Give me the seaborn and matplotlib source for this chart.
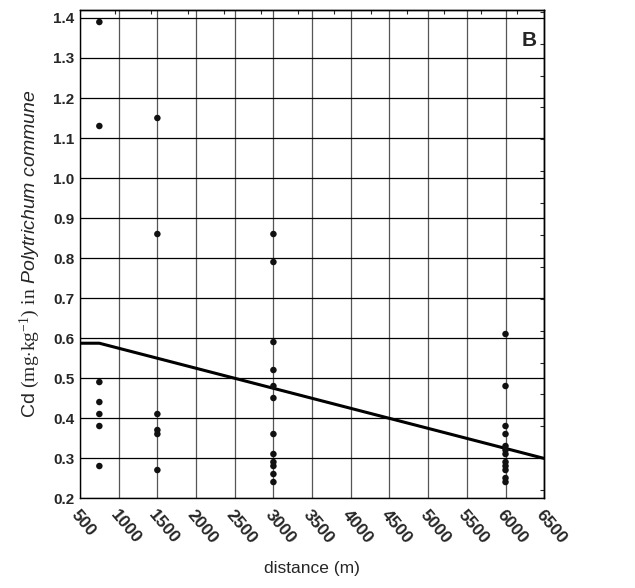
import numpy as np
import pandas as pd
import seaborn as sns
import matplotlib
matplotlib.use("Agg")
import matplotlib.pyplot as plt

# measured Cd values per sampling distance
dist_750 = [1.39, 1.13, 0.49, 0.44, 0.41, 0.38, 0.28]
dist_1500 = [1.15, 0.86, 0.41, 0.37, 0.36, 0.27]
dist_3000 = [0.86, 0.79, 0.59, 0.52, 0.48, 0.45, 0.36, 0.31, 0.29, 0.28, 0.26, 0.24]
dist_6000 = [0.61, 0.48, 0.38, 0.36, 0.33, 0.32, 0.31, 0.29, 0.28, 0.27, 0.25, 0.24]

# fitted trend line
trend_x = [500, 750, 6500]
trend_y = [0.587, 0.587, 0.299]

x_ticks = list(range(500, 7000, 500))
y_ticks = [0.2, 0.3, 0.4, 0.5, 0.6, 0.7, 0.8, 0.9, 1.0, 1.1, 1.2, 1.3, 1.4]

df = pd.DataFrame({
    "distance": [750] * len(dist_750) + [1500] * len(dist_1500)
                + [3000] * len(dist_3000) + [6000] * len(dist_6000),
    "Cd": dist_750 + dist_1500 + dist_3000 + dist_6000,
})
trend = pd.DataFrame({"distance": trend_x, "Cd": trend_y})

sns.set_style("white")
plt.rcParams["font.family"] = ["Liberation Sans", "DejaVu Sans"]
plt.rcParams["mathtext.fontset"] = "custom"
plt.rcParams["mathtext.rm"] = "Liberation Serif"
plt.rcParams["mathtext.it"] = "Liberation Sans:italic"

fig = plt.figure(figsize=(6.35, 5.88), dpi=100)
ax = fig.add_axes([0.126, 0.153, 0.731, 0.830])

# grid
for xv in x_ticks:
    ax.axvline(xv, color="#555555", lw=0.9, zorder=0)
for yv in y_ticks:
    ax.axhline(yv, color="black", lw=0.9, zorder=0)

sns.lineplot(data=trend, x="distance", y="Cd", color="black", lw=2.2, ax=ax, zorder=2)
sns.scatterplot(data=df, x="distance", y="Cd", color="#111111", s=22,
                edgecolor="none", ax=ax, zorder=3)

ax.set_xlim(500, 6500)
ax.set_ylim(0.2, 1.42)
ax.set_xticks(x_ticks)
ax.set_yticks(y_ticks)
ax.set_xticklabels([str(v) for v in x_ticks], rotation=-50, ha="left",
                   rotation_mode="anchor", fontsize=12.5, fontweight="bold")
ax.set_yticklabels([f"{v:.1f}" for v in y_ticks], fontsize=11, fontweight="bold")
ax.tick_params(axis="both", length=0, pad=4)
ax.tick_params(axis="x", pad=7)

# small inward ticks on the top and right frame
top = ax.secondary_xaxis("top")
top.set_xticks(np.arange(948, 6500, 473))
top.tick_params(direction="in", length=3, labeltop=False, width=0.8)
right = ax.secondary_yaxis("right")
right.set_yticks(np.arange(0.22, 1.42, 0.0797))
right.tick_params(direction="in", length=3, labelright=False, width=0.8)

for sp in list(ax.spines.values()) + [top.spines["top"], right.spines["right"]]:
    sp.set_color("black")
    sp.set_linewidth(1.0)

ax.set_xlabel("distance (m)", fontsize=12.5, labelpad=10)
ax.set_ylabel(r"Cd $\mathrm{(mg{\cdot}kg^{-1})\ in}$ $\mathit{Polytrichum\ commune}$",
              fontsize=14, labelpad=8)

ax.text(0.985, 0.957, "B", transform=ax.transAxes, ha="right", va="top",
        fontsize=15, fontweight="bold", zorder=5,
        bbox=dict(facecolor="white", edgecolor="none", pad=1))

fig.savefig("out.png", dpi=100)
